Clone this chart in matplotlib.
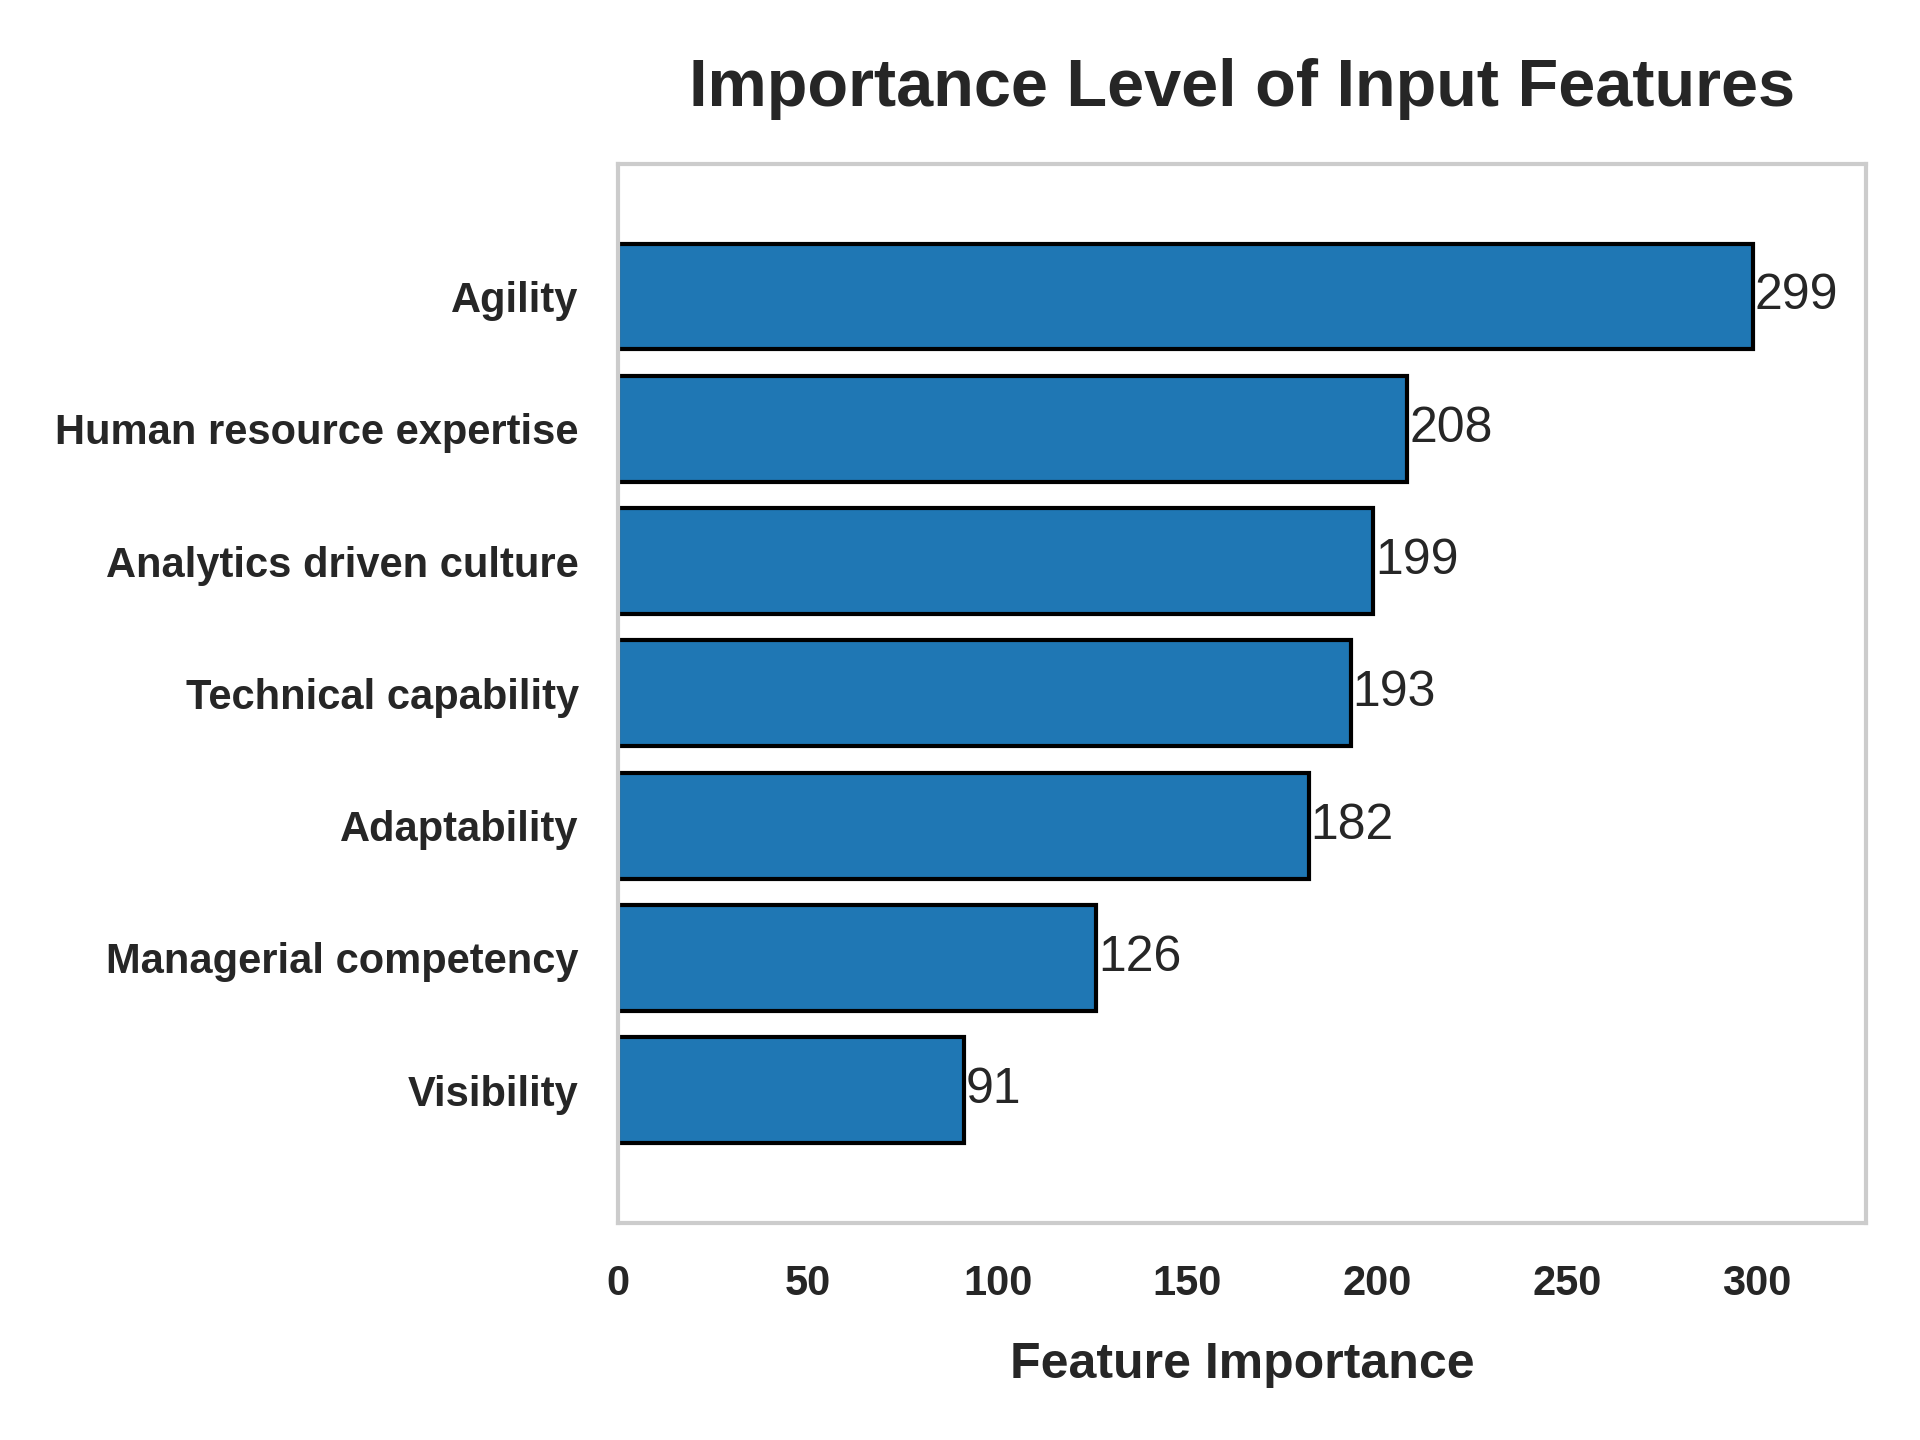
import numpy as np
import matplotlib.pyplot as plt

features = ['Agility', 'Human resource expertise', 'Analytics driven culture',
            'Technical capability', 'Adaptability', 'Managerial competency', 'Visibility']
importance = np.array([299, 208, 199, 193, 182, 126, 91])

plt.rcParams['font.family'] = ['Liberation Sans', 'DejaVu Sans']
plt.rcParams['text.color'] = '#262626'
plt.rcParams['axes.labelcolor'] = '#262626'
plt.rcParams['xtick.color'] = '#262626'
plt.rcParams['ytick.color'] = '#262626'

fig = plt.figure(figsize=(6.4, 4.8), dpi=300)
ax = fig.add_axes([0.322, 0.151, 0.650, 0.735])

pos = np.arange(len(features))
bars = ax.barh(pos, importance, height=0.8, color='#1f77b4', edgecolor='black', linewidth=1.0)

for b, v in zip(bars, importance):
    ax.text(b.get_width() + 0.5, b.get_y() + b.get_height() / 2, str(v),
            va='center', ha='left', fontsize=12) #value next to each bar

ax.set_yticks(pos)
ax.set_yticklabels(features, fontweight='bold', fontsize=10)
ax.set_ylim(len(features), -1)
ax.set_xlim(0, importance.max() * 1.1)
ax.set_xticks([0, 50, 100, 150, 200, 250, 300])
for lab in ax.get_xticklabels():
    lab.set_fontweight('bold')
    lab.set_fontsize(10)
ax.tick_params(axis='x', length=0, pad=10)
ax.tick_params(axis='y', length=0, pad=9.5)

for s in ax.spines.values():
    s.set_color('#cccccc')
    s.set_linewidth(1.0)

ax.set_xlabel('Feature Importance', fontsize=12, fontweight='bold', labelpad=9)
ax.set_title('Importance Level of Input Features', fontsize=16, fontweight='bold', pad=14)

fig.savefig('out.png', dpi=300)
